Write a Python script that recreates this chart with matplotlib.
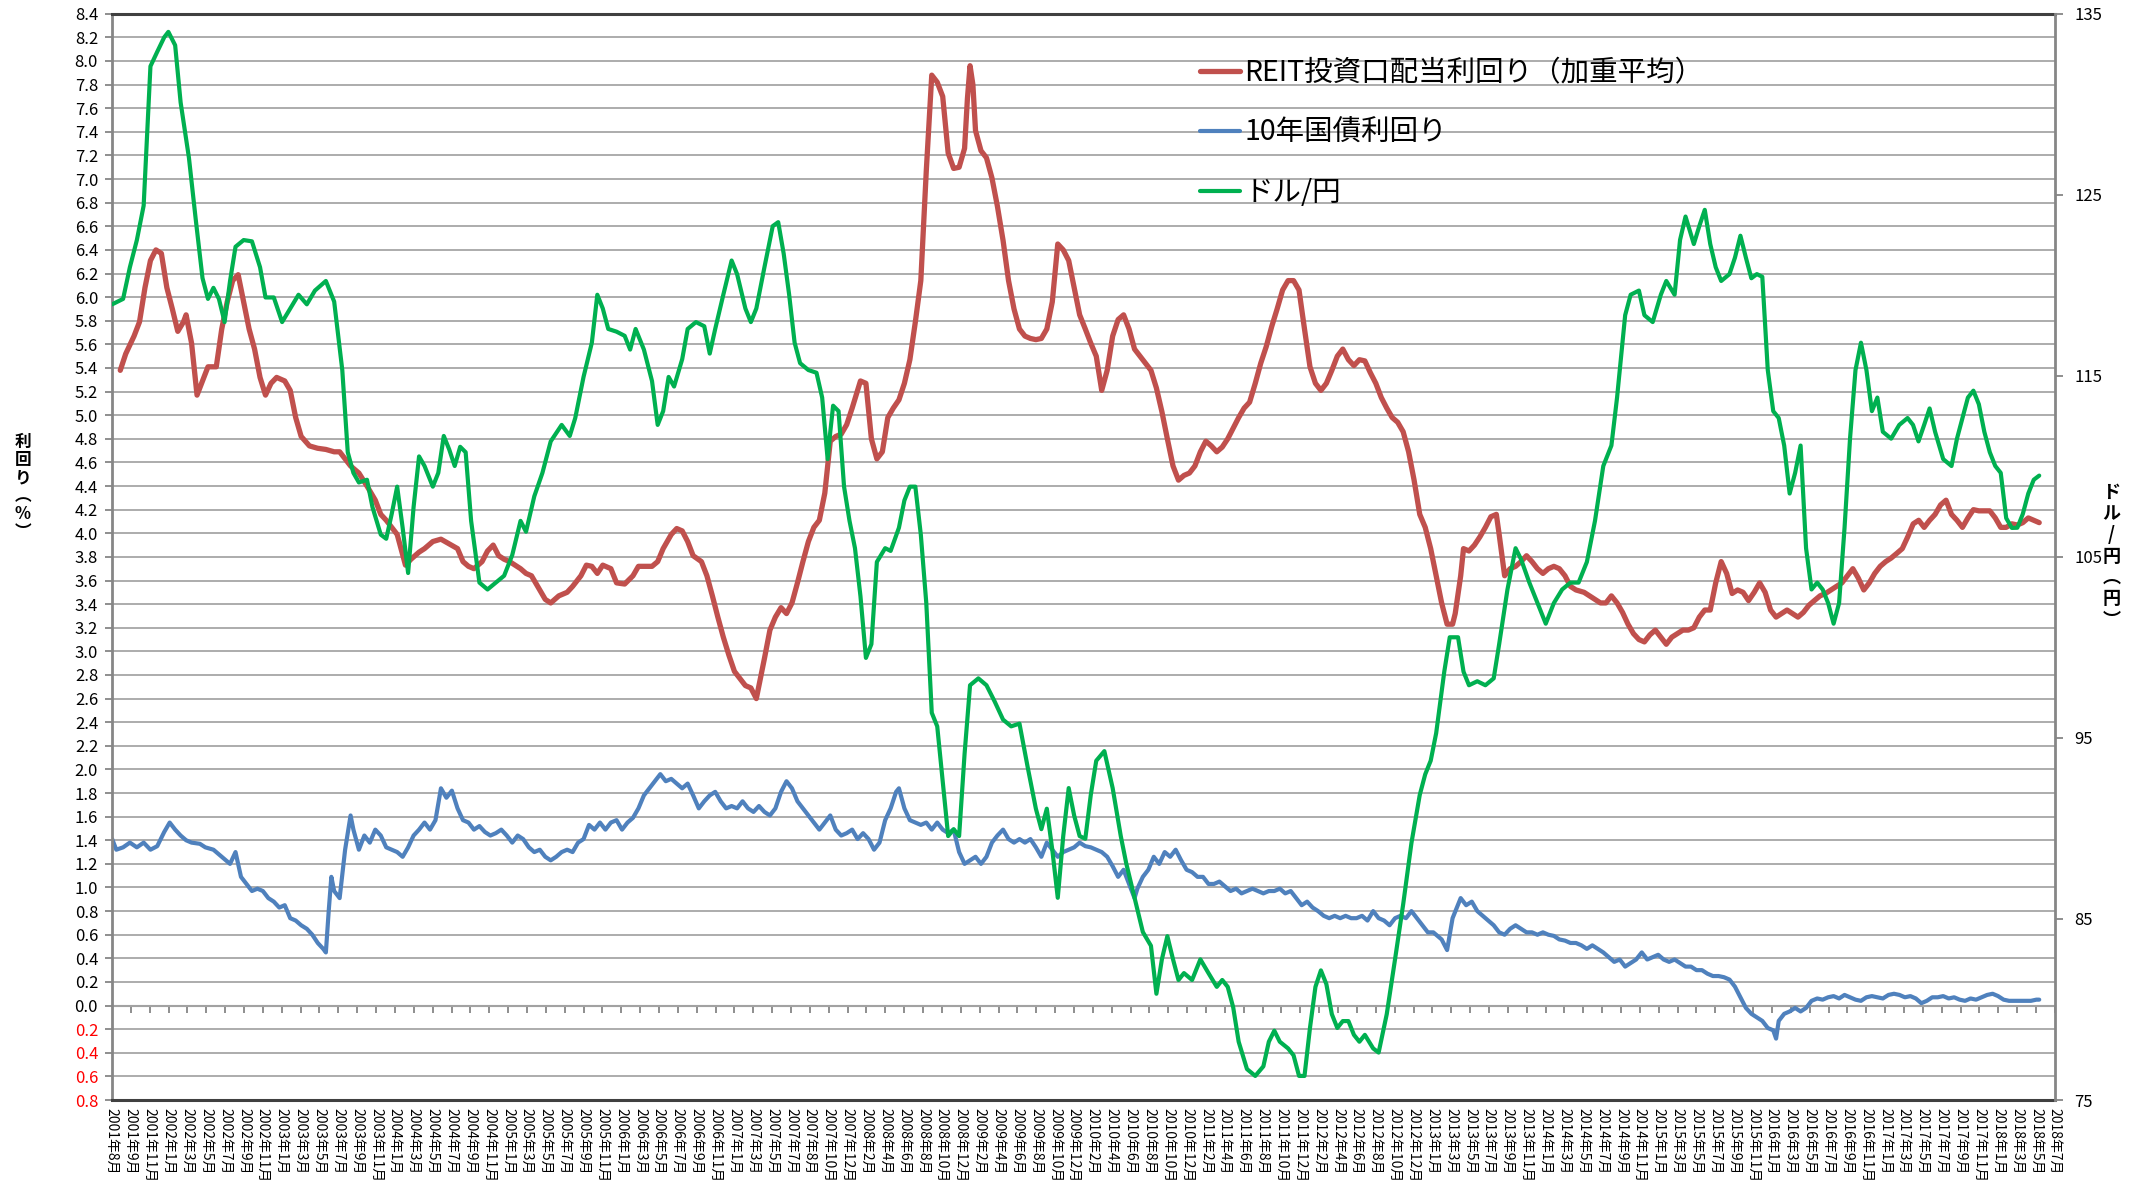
import matplotlib
matplotlib.use("Agg")
import matplotlib.pyplot as plt
import numpy as np

plt.rcParams['font.family'] = ['Noto Sans CJK JP', 'DejaVu Sans']

# x axis: one label per position, positions are evenly spaced
label_months = {
    2001: [8, 9, 11],
    2002: [1, 3, 5, 7, 9, 11], 2003: [1, 3, 5, 7, 9, 11], 2004: [1, 3, 5, 7, 9, 11],
    2005: [1, 3, 5, 7, 9, 11], 2006: [1, 3, 5, 7, 9, 11],
    2007: [1, 3, 5, 7, 8, 10, 12],
    2008: [2, 4, 6, 8, 10, 12], 2009: [2, 4, 6, 8, 10, 12], 2010: [2, 4, 6, 8, 10, 12],
    2011: [2, 4, 6, 8, 10, 12], 2012: [2, 4, 6, 8, 10, 12],
    2013: [1, 3, 5, 7, 9, 11], 2014: [1, 3, 5, 7, 9, 11], 2015: [1, 3, 5, 7, 9, 11],
    2016: [1, 3, 5, 7, 9, 11], 2017: [1, 3, 5, 7, 9, 11],
    2018: [1, 3, 5, 7],
}
tick_labels = [f"{y}年{m}月" for y, ms in label_months.items() for m in ms]

# REIT dividend yield (weighted avg), % -- positions in label units
reit_pos = [
    0.44, 0.73, 1.17, 1.46, 1.75, 2.04, 2.33, 2.62, 2.91, 3.20,
    3.49, 3.79, 3.93, 4.22, 4.51, 4.80, 5.09, 5.53, 5.82, 6.11,
    6.40, 6.69, 6.98, 7.27, 7.56, 7.85, 8.14, 8.43, 8.73, 9.16,
    9.45, 9.74, 10.03, 10.47, 10.90, 11.34, 11.78, 12.07, 12.36, 12.65,
    13.09, 13.52, 13.96, 14.25, 14.54, 14.83, 15.12, 15.56, 15.85, 16.28,
    16.57, 17.01, 17.44, 17.88, 18.32, 18.61, 18.90, 19.19, 19.62, 19.91,
    20.21, 20.50, 20.79, 21.08, 21.37, 21.66, 21.95, 22.24, 22.68, 22.97,
    23.26, 23.69, 24.13, 24.42, 24.86, 25.15, 25.44, 25.73, 26.02, 26.45,
    26.75, 27.18, 27.62, 27.91, 28.20, 28.63, 28.93, 29.22, 29.65, 29.94,
    30.23, 30.52, 30.81, 31.25, 31.54, 31.83, 32.12, 32.41, 32.70, 33.00,
    33.29, 33.58, 33.87, 34.16, 34.59, 34.88, 35.17, 35.47, 35.76, 36.05,
    36.34, 36.63, 36.92, 37.21, 37.50, 37.79, 38.08, 38.37, 38.66, 38.95,
    39.24, 39.53, 39.68, 39.97, 40.26, 40.55, 40.84, 41.13, 41.42, 41.72,
    42.01, 42.30, 42.59, 42.88, 43.17, 43.46, 43.75, 44.04, 44.33, 44.62,
    44.91, 45.20, 45.35, 45.49, 45.64, 45.78, 46.07, 46.36, 46.65, 46.94,
    47.24, 47.53, 47.82, 48.11, 48.40, 48.69, 48.98, 49.27, 49.56, 49.85,
    50.14, 50.43, 50.72, 51.01, 51.30, 51.60, 51.89, 52.18, 52.47, 52.76,
    53.05, 53.34, 53.63, 53.92, 54.21, 54.50, 54.79, 55.08, 55.37, 55.66,
    55.95, 56.25, 56.54, 56.83, 57.12, 57.41, 57.70, 57.99, 58.28, 58.57,
    58.86, 59.15, 59.44, 59.73, 60.02, 60.31, 60.61, 60.90, 61.19, 61.48,
    61.77, 62.06, 62.35, 62.64, 62.93, 63.22, 63.51, 63.80, 64.09, 64.38,
    64.67, 64.96, 65.25, 65.55, 65.84, 66.13, 66.42, 66.71, 67.00, 67.29,
    67.58, 67.87, 68.16, 68.45, 68.74, 69.03, 69.33, 69.62, 69.91, 70.20,
    70.49, 70.78, 71.07, 71.21, 71.50, 71.65, 71.94, 72.23, 72.52, 72.81,
    73.10, 73.39, 73.54, 73.83, 74.12, 74.41, 74.70, 74.99, 75.28, 75.57,
    75.86, 76.15, 76.44, 76.73, 77.03, 77.32, 77.61, 78.04, 78.33, 78.62,
    78.91, 79.20, 79.49, 79.79, 80.08, 80.37, 80.66, 80.95, 81.24, 81.53,
    81.82, 82.11, 82.40, 82.69, 82.98, 83.28, 83.57, 83.86, 84.15, 84.44,
    84.73, 85.02, 85.31, 85.60, 85.89, 86.18, 86.47, 86.76, 87.06, 87.35,
    87.64, 87.93, 88.22, 88.51, 88.80, 89.09, 89.38, 89.67, 89.96, 90.25,
    90.55, 90.84, 91.13, 91.42, 91.71, 92.00, 92.29, 92.58, 92.87, 93.16,
    93.45, 93.74, 94.03, 94.32, 94.62, 94.91, 95.20, 95.49, 95.78, 96.07,
    96.36, 96.65, 96.94, 97.23, 97.52, 97.81, 98.10, 98.39, 98.68, 98.97,
    99.26, 99.55, 99.84, 100.13, 100.42, 100.72, 101.01, 101.30, 101.59, 101.88,
    102.17,
]
reit_yield = [
    5.38, 5.52, 5.67, 5.79, 6.08, 6.31, 6.40, 6.37, 6.08, 5.90,
    5.71, 5.79, 5.85, 5.61, 5.17, 5.29, 5.41, 5.41, 5.73, 5.96,
    6.14, 6.19, 5.96, 5.73, 5.56, 5.32, 5.17, 5.27, 5.32, 5.29,
    5.21, 4.98, 4.82, 4.74, 4.72, 4.71, 4.69, 4.69, 4.63, 4.57,
    4.51, 4.40, 4.28, 4.16, 4.11, 4.05, 3.99, 3.73, 3.78, 3.84,
    3.87, 3.93, 3.95, 3.91, 3.87, 3.76, 3.72, 3.70, 3.76, 3.85,
    3.90, 3.81, 3.78, 3.76, 3.73, 3.70, 3.66, 3.64, 3.52, 3.44,
    3.41, 3.47, 3.50, 3.55, 3.64, 3.73, 3.72, 3.66, 3.73, 3.70,
    3.58, 3.57, 3.64, 3.72, 3.72, 3.72, 3.76, 3.87, 3.99, 4.04,
    4.02, 3.93, 3.81, 3.76, 3.64, 3.47, 3.29, 3.12, 2.97, 2.83,
    2.77, 2.71, 2.69, 2.60, 2.94, 3.18, 3.29, 3.37, 3.32, 3.41,
    3.58, 3.76, 3.93, 4.05, 4.11, 4.34, 4.78, 4.82, 4.84, 4.92,
    5.06, 5.21, 5.29, 5.27, 4.80, 4.63, 4.69, 4.98, 5.06, 5.13,
    5.27, 5.47, 5.79, 6.14, 7.07, 7.88, 7.82, 7.70, 7.22, 7.09,
    7.10, 7.26, 7.68, 7.96, 7.80, 7.41, 7.24, 7.18, 7.01, 6.77,
    6.48, 6.14, 5.90, 5.73, 5.67, 5.65, 5.64, 5.65, 5.73, 5.96,
    6.45, 6.40, 6.31, 6.08, 5.85, 5.73, 5.61, 5.50, 5.21, 5.38,
    5.67, 5.81, 5.85, 5.73, 5.56, 5.50, 5.44, 5.38, 5.23, 5.03,
    4.80, 4.57, 4.45, 4.49, 4.51, 4.57, 4.69, 4.78, 4.74, 4.69,
    4.73, 4.80, 4.89, 4.98, 5.06, 5.11, 5.27, 5.44, 5.58, 5.75,
    5.90, 6.06, 6.14, 6.14, 6.06, 5.73, 5.41, 5.27, 5.21, 5.27,
    5.38, 5.50, 5.56, 5.47, 5.42, 5.47, 5.46, 5.36, 5.27, 5.15,
    5.06, 4.98, 4.94, 4.86, 4.69, 4.45, 4.16, 4.05, 3.87, 3.64,
    3.41, 3.23, 3.23, 3.32, 3.64, 3.87, 3.85, 3.90, 3.97, 4.05,
    4.14, 4.16, 3.99, 3.64, 3.70, 3.72, 3.76, 3.81, 3.76, 3.70,
    3.66, 3.70, 3.72, 3.70, 3.64, 3.55, 3.52, 3.50, 3.47, 3.44,
    3.41, 3.41, 3.47, 3.41, 3.33, 3.23, 3.15, 3.10, 3.08, 3.14,
    3.18, 3.12, 3.06, 3.12, 3.15, 3.18, 3.18, 3.20, 3.29, 3.35,
    3.35, 3.58, 3.76, 3.66, 3.49, 3.52, 3.50, 3.43, 3.50, 3.58,
    3.50, 3.35, 3.29, 3.32, 3.35, 3.32, 3.29, 3.33, 3.39, 3.43,
    3.47, 3.49, 3.52, 3.55, 3.58, 3.64, 3.70, 3.62, 3.52, 3.58,
    3.66, 3.72, 3.76, 3.79, 3.83, 3.87, 3.97, 4.08, 4.11, 4.05,
    4.11, 4.16, 4.24, 4.28, 4.16, 4.11, 4.05, 4.13, 4.20, 4.19,
    4.19, 4.19, 4.13, 4.05, 4.05, 4.08, 4.07, 4.09, 4.13, 4.11,
    4.09,
]

# 10-year JGB yield, %
jgb_pos = [
    0.01, 0.23, 0.59, 0.95, 1.32, 1.68, 2.04, 2.40, 2.77, 3.06,
    3.35, 3.64, 3.93, 4.22, 4.66, 4.95, 5.38, 5.82, 6.26, 6.55,
    6.84, 7.13, 7.42, 7.71, 8.00, 8.29, 8.58, 8.87, 9.16, 9.45,
    9.74, 10.03, 10.33, 10.62, 10.91, 11.20, 11.34, 11.49, 11.63, 11.78,
    12.07, 12.36, 12.65, 12.80, 13.09, 13.38, 13.67, 13.96, 14.25, 14.54,
    14.83, 15.12, 15.41, 15.70, 15.99, 16.28, 16.57, 16.86, 17.15, 17.44,
    17.73, 18.02, 18.32, 18.61, 18.90, 19.19, 19.48, 19.77, 20.06, 20.35,
    20.64, 20.93, 21.22, 21.51, 21.80, 22.10, 22.39, 22.68, 22.97, 23.26,
    23.55, 23.84, 24.13, 24.42, 24.71, 25.00, 25.29, 25.58, 25.87, 26.16,
    26.45, 26.75, 27.04, 27.33, 27.62, 27.91, 28.20, 28.49, 28.78, 29.07,
    29.36, 29.65, 29.94, 30.23, 30.52, 30.81, 31.11, 31.40, 31.69, 31.98,
    32.27, 32.56, 32.85, 33.14, 33.43, 33.72, 34.01, 34.30, 34.59, 34.88,
    35.17, 35.47, 35.76, 36.05, 36.34, 36.63, 36.92, 37.21, 37.50, 37.79,
    38.08, 38.37, 38.66, 38.95, 39.24, 39.53, 39.82, 40.11, 40.40, 40.69,
    40.99, 41.28, 41.57, 41.72, 42.01, 42.30, 42.59, 42.88, 43.17, 43.46,
    43.75, 44.04, 44.33, 44.62, 44.91, 45.20, 45.49, 45.78, 46.07, 46.36,
    46.65, 46.94, 47.24, 47.53, 47.82, 48.11, 48.40, 48.69, 48.98, 49.27,
    49.56, 49.85, 50.14, 50.43, 50.72, 51.01, 51.30, 51.60, 51.89, 52.18,
    52.47, 52.76, 53.05, 53.34, 53.63, 53.92, 54.21, 54.36, 54.65, 54.94,
    55.23, 55.52, 55.81, 56.10, 56.39, 56.68, 56.97, 57.26, 57.55, 57.84,
    58.13, 58.42, 58.71, 59.00, 59.30, 59.59, 59.88, 60.17, 60.46, 60.75,
    61.04, 61.33, 61.62, 61.91, 62.20, 62.49, 62.78, 63.07, 63.36, 63.65,
    63.94, 64.24, 64.53, 64.82, 65.11, 65.40, 65.69, 65.98, 66.27, 66.56,
    66.86, 67.15, 67.44, 67.73, 68.02, 68.31, 68.60, 68.89, 69.18, 69.47,
    69.76, 70.05, 70.49, 70.78, 71.07, 71.50, 71.79, 72.09, 72.38, 72.67,
    72.96, 73.25, 73.54, 73.83, 74.12, 74.41, 74.70, 74.99, 75.28, 75.57,
    75.86, 76.15, 76.44, 76.73, 77.03, 77.32, 77.61, 77.90, 78.19, 78.48,
    78.77, 79.06, 79.35, 79.64, 79.93, 80.22, 80.51, 80.80, 81.10, 81.39,
    81.68, 81.97, 82.26, 82.55, 82.84, 83.13, 83.42, 83.71, 84.00, 84.29,
    84.58, 84.87, 85.17, 85.46, 85.75, 86.04, 86.33, 86.62, 86.91, 87.20,
    87.49, 87.78, 88.07, 88.22, 88.36, 88.65, 88.94, 89.23, 89.52, 89.81,
    90.10, 90.40, 90.69, 90.98, 91.27, 91.56, 91.85, 92.14, 92.43, 92.72,
    93.01, 93.30, 93.59, 93.88, 94.18, 94.47, 94.76, 95.05, 95.34, 95.63,
    95.92, 96.21, 96.50, 96.79, 97.08, 97.37, 97.66, 97.95, 98.24, 98.53,
    98.82, 99.11, 99.41, 99.70, 99.99, 100.28, 100.57, 100.86, 101.15, 101.44,
    101.73, 102.02, 102.17,
]
jgb_yield = [
    1.41, 1.32, 1.34, 1.38, 1.34, 1.38, 1.32, 1.35, 1.47, 1.55,
    1.49, 1.44, 1.40, 1.38, 1.37, 1.34, 1.32, 1.26, 1.20, 1.30,
    1.09, 1.03, 0.97, 0.99, 0.97, 0.91, 0.88, 0.83, 0.85, 0.74,
    0.72, 0.68, 0.65, 0.60, 0.53, 0.48, 0.45, 0.80, 1.09, 0.97,
    0.91, 1.32, 1.61, 1.49, 1.32, 1.44, 1.38, 1.49, 1.44, 1.34,
    1.32, 1.30, 1.26, 1.34, 1.44, 1.49, 1.55, 1.49, 1.57, 1.84,
    1.76, 1.82, 1.67, 1.57, 1.55, 1.49, 1.52, 1.47, 1.44, 1.46,
    1.49, 1.44, 1.38, 1.44, 1.41, 1.34, 1.30, 1.32, 1.26, 1.23,
    1.26, 1.30, 1.32, 1.30, 1.38, 1.41, 1.53, 1.49, 1.55, 1.49,
    1.55, 1.57, 1.49, 1.55, 1.59, 1.67, 1.78, 1.84, 1.90, 1.96,
    1.90, 1.92, 1.88, 1.84, 1.88, 1.78, 1.67, 1.73, 1.78, 1.81,
    1.73, 1.67, 1.69, 1.67, 1.73, 1.67, 1.64, 1.69, 1.64, 1.61,
    1.67, 1.81, 1.90, 1.84, 1.73, 1.67, 1.61, 1.55, 1.49, 1.55,
    1.61, 1.49, 1.44, 1.46, 1.49, 1.41, 1.46, 1.41, 1.32, 1.38,
    1.57, 1.67, 1.81, 1.84, 1.67, 1.57, 1.55, 1.53, 1.55, 1.49,
    1.55, 1.49, 1.46, 1.49, 1.30, 1.20, 1.23, 1.26, 1.20, 1.26,
    1.38, 1.44, 1.49, 1.41, 1.38, 1.41, 1.38, 1.41, 1.34, 1.26,
    1.38, 1.32, 1.26, 1.30, 1.32, 1.34, 1.38, 1.35, 1.34, 1.32,
    1.30, 1.26, 1.18, 1.09, 1.15, 1.03, 0.91, 0.99, 1.09, 1.15,
    1.26, 1.20, 1.30, 1.26, 1.32, 1.23, 1.15, 1.13, 1.09, 1.09,
    1.03, 1.03, 1.05, 1.01, 0.97, 0.99, 0.95, 0.97, 0.99, 0.97,
    0.95, 0.97, 0.97, 0.99, 0.95, 0.97, 0.91, 0.85, 0.88, 0.83,
    0.80, 0.76, 0.74, 0.76, 0.74, 0.76, 0.74, 0.74, 0.76, 0.72,
    0.80, 0.74, 0.72, 0.68, 0.74, 0.76, 0.74, 0.80, 0.74, 0.68,
    0.62, 0.62, 0.56, 0.47, 0.74, 0.91, 0.85, 0.88, 0.80, 0.76,
    0.72, 0.68, 0.62, 0.60, 0.65, 0.68, 0.65, 0.62, 0.62, 0.60,
    0.62, 0.60, 0.59, 0.56, 0.55, 0.53, 0.53, 0.51, 0.48, 0.51,
    0.48, 0.45, 0.41, 0.37, 0.39, 0.33, 0.36, 0.39, 0.45, 0.39,
    0.41, 0.43, 0.39, 0.37, 0.39, 0.36, 0.33, 0.33, 0.30, 0.30,
    0.27, 0.25, 0.25, 0.24, 0.22, 0.16, 0.07, -0.02, -0.07, -0.10,
    -0.13, -0.19, -0.21, -0.28, -0.13, -0.07, -0.05, -0.02, -0.05, -0.02,
    0.04, 0.06, 0.05, 0.07, 0.08, 0.06, 0.09, 0.07, 0.05, 0.04,
    0.07, 0.08, 0.07, 0.06, 0.09, 0.10, 0.09, 0.07, 0.08, 0.06,
    0.02, 0.04, 0.07, 0.07, 0.08, 0.06, 0.07, 0.05, 0.04, 0.06,
    0.05, 0.07, 0.09, 0.10, 0.08, 0.05, 0.04, 0.04, 0.04, 0.04,
    0.04, 0.05, 0.05,
]

# USD/JPY, yen (right axis)
usd_pos = [
    0.01, 0.59, 0.95, 1.32, 1.68, 2.04, 2.40, 2.77, 2.99,
    3.35, 3.64, 4.08, 4.44, 4.80, 5.09, 5.38, 5.67, 5.97, 6.26,
    6.55, 6.98, 7.42, 7.85, 8.14, 8.58, 9.02, 9.45, 9.89, 10.33,
    10.76, 11.34, 11.78, 12.21, 12.50, 12.80, 13.09, 13.52, 13.81, 14.25,
    14.54, 14.83, 15.12, 15.41, 15.70, 15.99, 16.28, 16.57, 17.01, 17.30,
    17.59, 17.88, 18.17, 18.46, 18.75, 19.04, 19.48, 19.91, 20.35, 20.79,
    21.22, 21.66, 21.95, 22.39, 22.82, 23.26, 23.84, 24.27, 24.56, 25.00,
    25.44, 25.73, 26.02, 26.31, 26.75, 27.18, 27.47, 27.76, 28.20, 28.63,
    28.93, 29.22, 29.51, 29.80, 30.23, 30.52, 30.96, 31.40, 31.69, 31.98,
    32.41, 32.85, 33.14, 33.58, 33.87, 34.16, 34.59, 35.03, 35.32, 35.61,
    35.90, 36.19, 36.48, 36.92, 37.35, 37.65, 37.94, 38.08, 38.23, 38.52,
    38.81, 39.10, 39.39, 39.68, 39.97, 40.26, 40.55, 40.99, 41.28, 41.72,
    42.01, 42.30, 42.59, 42.88, 43.17, 43.46, 43.75, 44.04, 44.33, 44.62,
    44.91, 45.20, 45.49, 45.93, 46.36, 46.80, 47.24, 47.67, 48.11, 48.55,
    48.98, 49.27, 49.56, 49.85, 50.14, 50.43, 50.72, 51.01, 51.30, 51.60,
    51.89, 52.18, 52.61, 53.05, 53.48, 53.77, 54.21, 54.65, 55.08, 55.37,
    55.66, 55.95, 56.25, 56.54, 56.83, 57.26, 57.70, 58.13, 58.57, 58.86,
    59.15, 59.44, 59.73, 60.17, 60.61, 61.04, 61.33, 61.62, 61.91, 62.35,
    62.64, 62.93, 63.22, 63.51, 63.80, 64.09, 64.38, 64.67, 64.96, 65.25,
    65.55, 65.84, 66.13, 66.42, 66.86, 67.15, 67.58, 68.02, 68.45, 68.89,
    69.33, 69.62, 69.91, 70.20, 70.63, 70.92, 71.36, 71.65, 71.94, 72.38,
    72.81, 73.25, 73.54, 73.98, 74.41, 74.70, 75.14, 75.57, 76.01, 76.44,
    76.88, 77.32, 77.75, 78.19, 78.62, 79.06, 79.49, 79.79, 80.22, 80.51,
    80.95, 81.24, 81.68, 82.11, 82.40, 82.84, 83.13, 83.42, 83.86, 84.15,
    84.44, 84.73, 85.02, 85.31, 85.75, 86.04, 86.33, 86.62, 86.91, 87.20,
    87.49, 87.78, 88.07, 88.36, 88.65, 88.94, 89.23, 89.52, 89.81, 90.10,
    90.40, 90.69, 90.98, 91.27, 91.56, 91.85, 92.14, 92.43, 92.72, 93.01,
    93.30, 93.59, 93.88, 94.32, 94.75, 95.19, 95.48, 95.77, 96.07, 96.36,
    96.65, 97.08, 97.52, 97.81, 98.10, 98.39, 98.68, 98.97, 99.26, 99.55,
    99.84, 100.13, 100.42, 100.72, 101.01, 101.30, 101.59, 101.88, 102.17,
]
usd_jpy = [
    118.95, 119.25, 121.0, 122.5, 124.4, 132.1, 132.9, 133.7, 134.0,
    133.26, 130.1, 127.05, 123.65, 120.4, 119.25, 119.86, 119.25, 117.97, 120.24,
    122.13, 122.5, 122.43, 121.0, 119.33, 119.33, 117.97, 118.72, 119.48, 118.95,
    119.71, 120.24, 119.1, 115.32, 110.78, 109.64, 109.11, 109.26, 107.75, 106.23,
    106.0, 107.37, 108.88, 106.61, 104.11, 107.75, 110.55, 110.02, 108.88, 109.64,
    111.68, 110.93, 110.02, 111.08, 110.78, 106.99, 103.58, 103.2, 103.58, 103.96,
    105.1, 106.99, 106.39, 108.35, 109.64, 111.38, 112.29, 111.68, 112.67, 114.94,
    116.83, 119.48, 118.72, 117.59, 117.44, 117.21, 116.45, 117.59, 116.45, 114.71,
    112.29, 113.05, 114.94, 114.41, 115.92, 117.59, 117.97, 117.74, 116.23, 117.59,
    119.48, 121.37, 120.62, 118.72, 117.97, 118.72, 121.0, 123.27, 123.49, 121.75,
    119.48, 116.83, 115.70, 115.32, 115.17, 113.8, 110.4, 111.9, 113.35, 113.05,
    108.88, 106.99, 105.48, 102.83, 99.42, 100.18, 104.72, 105.48, 105.33, 106.61,
    108.12, 108.88, 108.88, 106.23, 102.45, 96.39, 95.64, 92.61, 89.58, 89.96,
    89.58, 94.12, 97.91, 98.29, 97.91, 97.0, 96.01, 95.64, 95.79, 93.36,
    91.09, 89.96, 91.09, 88.82, 86.17, 89.58, 92.23, 90.71, 89.58, 89.43,
    91.85, 93.74, 94.27, 92.23, 89.58, 88.07, 86.17, 84.28, 83.52, 80.87,
    82.77, 84.05, 82.77, 81.63, 82.01, 81.63, 82.77, 82.01, 81.25, 81.63,
    81.25, 80.12, 78.22, 76.71, 76.33, 76.86, 78.22, 78.83, 78.22, 77.85,
    77.47, 76.33, 76.33, 78.98, 81.25, 82.16, 81.40, 79.74, 78.98, 79.36,
    79.36, 78.60, 78.22, 78.60, 77.85, 77.62, 79.74, 82.77, 85.80, 89.2,
    91.85, 92.99, 93.74, 95.26, 98.66, 100.56, 100.56, 98.66, 97.91, 98.13,
    97.91, 98.29, 100.18, 103.2, 105.48, 104.87, 103.58, 102.45, 101.31, 102.45,
    103.2, 103.58, 103.58, 104.72, 106.99, 110.02, 111.15, 113.8, 118.35, 119.48,
    119.71, 118.35, 117.97, 119.48, 120.24, 119.48, 122.51, 123.80, 122.28, 123.27,
    124.17, 122.28, 121.0, 120.24, 120.62, 121.53, 122.74, 121.53, 120.39, 120.62,
    120.47, 115.32, 113.05, 112.67, 111.15, 108.5, 109.64, 111.15, 105.48, 103.2,
    103.58, 103.2, 102.45, 101.31, 102.45, 106.61, 111.53, 115.32, 116.83, 115.32,
    113.05, 113.8, 111.91, 111.53, 112.29, 112.67, 112.29, 111.38, 112.29, 113.20,
    111.91, 110.40, 110.02, 111.53, 112.67, 113.8, 114.18, 113.43, 111.91, 110.78,
    110.02, 109.64, 107.14, 106.6, 106.61, 107.37, 108.50, 109.26, 109.49,
]

red = '#C0504D'
blue = '#4F81BD'
green = '#00B050'
gray = '#868686'
dark = '#404040'

fig = plt.figure(figsize=(21.49, 11.86), dpi=100)
ax = fig.add_axes([0.0521, 0.0725, 0.9041, 0.9159])
ax2 = ax.twinx()

l1, = ax.plot(reit_pos, reit_yield, color=red, lw=3.8,
              solid_capstyle='round', solid_joinstyle='round')
l2, = ax.plot(jgb_pos, jgb_yield, color=blue, lw=3.0,
              solid_capstyle='round', solid_joinstyle='round')
l3, = ax2.plot(usd_pos, usd_jpy, color=green, lw=3.0,
               solid_capstyle='round', solid_joinstyle='round')

# left axis
ax.set_xlim(0, 103)
ax.set_ylim(-0.8, 8.4)
yt = np.round(np.arange(-0.8, 8.41, 0.2), 1)
ax.set_yticks(yt)
ax.set_yticklabels([f"{abs(v):.1f}" for v in yt], fontsize=12)
for lab, v in zip(ax.get_yticklabels(), yt):
    if v < 0:
        lab.set_color('#FF0000')
ax.tick_params(axis='y', direction='out', length=5, width=1.3, color=gray, pad=5)
ax.grid(axis='y', color='#A6A6A6', lw=1.3)
ax.set_axisbelow(True)

# category labels along the bottom
ax.set_xticks(np.arange(len(tick_labels)))
ax.set_xticklabels(tick_labels, rotation=270, fontsize=10)
ax.tick_params(axis='x', length=0, pad=6)

# horizontal axis line at 0 with its tick marks
sec = ax.secondary_xaxis(0.8 / 9.2)
sec.set_xticks(np.arange(1, len(tick_labels)))
sec.tick_params(direction='out', length=5, width=1.3, color=gray, labelbottom=False)
sec.spines['bottom'].set_color(gray)
sec.spines['bottom'].set_linewidth(1.5)

for s in ['top', 'bottom']:
    ax.spines[s].set_color(dark)
    ax.spines[s].set_linewidth(2.2)
ax.spines['left'].set_color(gray)
ax.spines['left'].set_linewidth(2)
ax.spines['right'].set_visible(False)

# right axis
ax2.set_ylim(75, 135)
ax2.set_yticks(np.arange(75, 136, 10))
ax2.tick_params(axis='y', direction='out', length=6, width=1.3, color=gray,
                labelsize=12, pad=8)
for s in ['top', 'bottom', 'left']:
    ax2.spines[s].set_visible(False)
ax2.spines['right'].set_color(gray)
ax2.spines['right'].set_linewidth(2)

# axis titles, stacked vertically
fig.text(0.0107, 0.589, "利\n回\nり\n︵\n%\n︶", ha='center', va='center',
         fontsize=12, fontweight='bold', linespacing=1.0)
fig.text(0.9825, 0.531, "ド\nル\n/\n円\n︵\n円\n︶", ha='center', va='center',
         fontsize=13, fontweight='bold', linespacing=1.15)

ax2.legend([l1, l2, l3], ["REIT投資口配当利回り（加重平均）", "10年国債利回り", "ドル/円"],
           loc='upper left', bbox_to_anchor=(1200 / 2149, 1 - 58 / 1186),
           bbox_transform=fig.transFigure, frameon=False, fontsize=20.5,
           handlelength=1.4, handletextpad=0.15, labelspacing=1.05,
           borderpad=0, borderaxespad=0)

fig.savefig("out.png", dpi=100)
